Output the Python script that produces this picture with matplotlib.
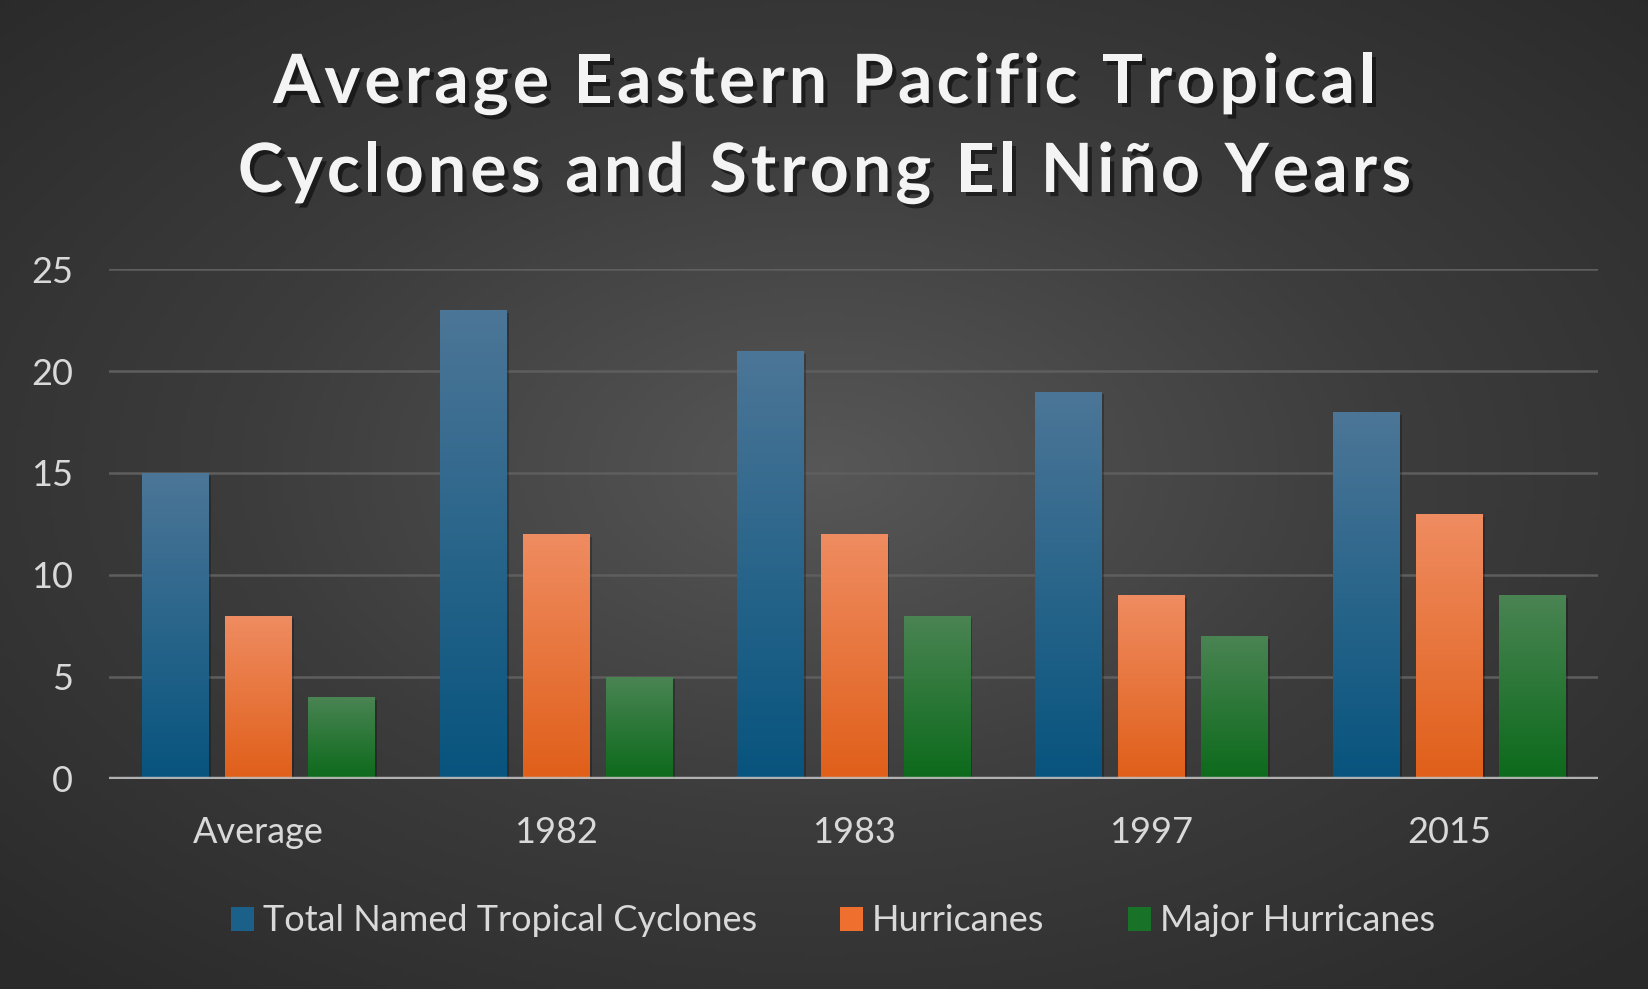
import numpy as np
import matplotlib.pyplot as plt
import matplotlib.patheffects as pe
from matplotlib import font_manager
from matplotlib.ft2font import FT2Font
from matplotlib.colors import LinearSegmentedColormap
from matplotlib.patches import Patch

# chart data
categories = ["Average", "1982", "1983", "1997", "2015"]
series_names = ["Total Named Tropical Cyclones", "Hurricanes", "Major Hurricanes"]
total_named = [15, 23, 21, 19, 18]
hurricanes = [8, 12, 12, 9, 13]
major_hurricanes = [4, 5, 8, 7, 9]
y_ticks = [0, 5, 10, 15, 20, 25]
title_lines = ["Average Eastern Pacific Tropical", "Cyclones and Strong El Niño Years"]

# styling
top_colors = ["#4c7697", "#ef8c61", "#4a8453"]
bottom_colors = ["#07547e", "#e05f19", "#0c6a1b"]
legend_colors = ["#1b6088", "#ee6f2e", "#187228"]
text_color = "#d9d9d9"
font = "Lato"
DPI = 100
W_PX, H_PX = 1649, 989

fig = plt.figure(figsize=(W_PX / DPI, H_PX / DPI), dpi=DPI)

# radial gradient background
bg = fig.add_axes([0, 0, 1, 1], zorder=-10)
gx, gy = np.meshgrid(np.linspace(-1, 1, 400), np.linspace(-1, 1, 240))
r = np.sqrt(gx ** 2 + (gy + 0.05) ** 2) / np.sqrt(2)
bg_cmap = LinearSegmentedColormap.from_list("bg", ["#575757", "#3c3c3c", "#2a2a2a"])
bg.imshow(r, cmap=bg_cmap, aspect="auto", extent=[0, 1, 0, 1], vmin=0, vmax=1)
bg.set_axis_off()

ax = fig.add_axes([0.0663, 0.2128, 0.9027, 0.5149])
ax.patch.set_alpha(0)

series = [total_named, hurricanes, major_hurricanes]
x = np.arange(len(categories))
width = 0.222
offsets = [-0.279, 0.0, 0.279]
grad = np.linspace(1, 0, 256).reshape(-1, 1)   # top light -> bottom dark
shadow = [pe.SimplePatchShadow(offset=(2, -2), shadow_rgbFace="black", alpha=0.25), pe.Normal()]

for i, vals in enumerate(series):
    cmap = LinearSegmentedColormap.from_list(f"g{i}", [bottom_colors[i], top_colors[i]])
    bars = ax.bar(x + offsets[i], vals, width, color=bottom_colors[i], zorder=3,
                  path_effects=shadow)
    for b in bars:
        x0, y0 = b.get_x(), b.get_y()
        im = ax.imshow(grad, cmap=cmap, aspect="auto", origin="upper",
                       extent=[x0, x0 + b.get_width(), y0, y0 + b.get_height()],
                       vmin=0, vmax=1, zorder=3.5)
        im.set_clip_path(b)

ax.set_xlim(-0.5, len(categories) - 0.5)
ax.set_ylim(0, 25)
ax.set_yticks(y_ticks)
ax.set_xticks(x)
ax.set_xticklabels(categories)
ax.yaxis.grid(True, color="#5e5e5e", lw=1.8, zorder=0)
ax.set_axisbelow(True)
ax.axhline(0, color="#bdbdbd", lw=3.2, alpha=0.9, zorder=5)
for s in ax.spines.values():
    s.set_visible(False)
ax.tick_params(axis="both", length=0, labelsize=26, labelcolor=text_color)
ax.tick_params(axis="y", pad=26)
ax.tick_params(axis="x", pad=27)
for lab in ax.get_xticklabels() + ax.get_yticklabels():
    lab.set_fontfamily(font)

# title with letter spacing, drawn one character at a time
title_size = 49
title_prop = font_manager.FontProperties(family=font, weight="bold", size=title_size)
ft = FT2Font(font_manager.findfont(title_prop))
ft.set_size(title_size, DPI)


def advances(s):
    return [ft.load_char(ord(c)).linearHoriAdvance / 65536.0 for c in s]


target_widths = [1104, 1172]
tracks = []
for line, tw in zip(title_lines, target_widths):
    adv = advances(line)
    tracks.append((tw - sum(adv)) / (len(line) - 1))
track = max(0.0, float(np.mean(tracks)))

title_shadow = [pe.withSimplePatchShadow(offset=(3, -3), shadow_rgbFace="black", alpha=0.5)]
baselines = [1 - 103 / H_PX, 1 - 192 / H_PX]
for line, yb in zip(title_lines, baselines):
    adv = advances(line)
    total = sum(adv) + track * (len(line) - 1)
    xpos = W_PX / 2 - total / 2
    for c, a in zip(line, adv):
        if c != " ":
            fig.text(xpos / W_PX, yb, c, ha="left", va="baseline", fontproperties=title_prop,
                     color="#f4f4f4", path_effects=title_shadow)
        xpos += a + track

handles = [Patch(facecolor=c, edgecolor="none") for c in legend_colors]
fig.legend(handles, series_names, loc="center", bbox_to_anchor=(0.505, 0.069), ncol=3,
           frameon=False, prop={"family": font, "size": 26}, labelcolor=text_color,
           handlelength=0.64, handleheight=0.64, handletextpad=0.25, columnspacing=2.3)

fig.savefig("out.png", dpi=DPI)
